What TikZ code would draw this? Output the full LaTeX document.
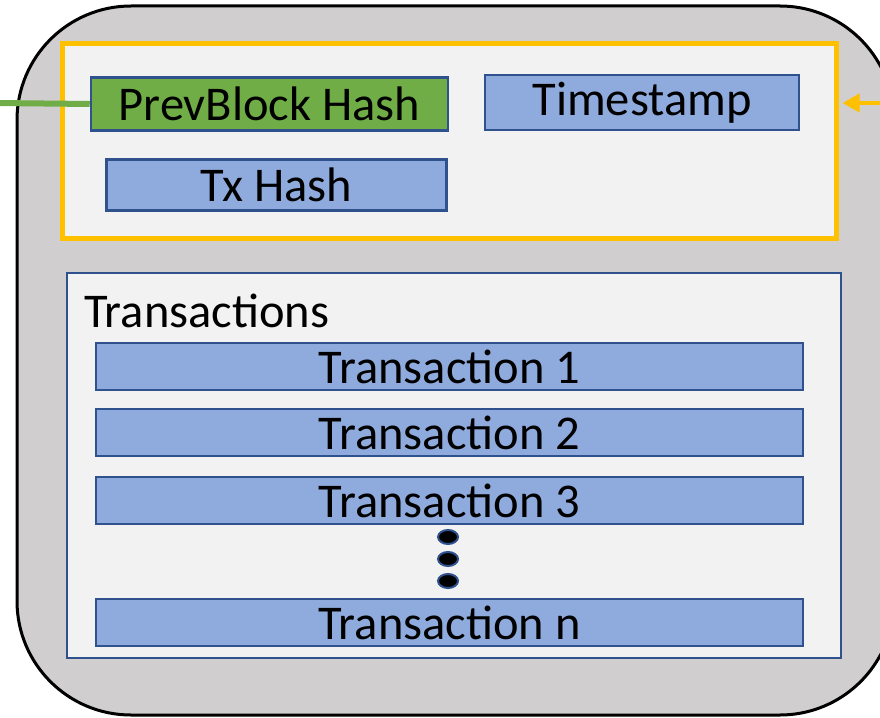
\documentclass[tikz,border=0pt]{standalone}
\usepackage{fontspec}
\setmainfont{Carlito}
\usetikzlibrary{arrows.meta,shapes.geometric}
\definecolor{blockgrey}{HTML}{D0CECE}
\definecolor{paneI}{HTML}{F2F2F2}
\definecolor{hdrorange}{HTML}{FFC000}
\definecolor{fieldblue}{HTML}{8FAADC}
\definecolor{edgeblue}{HTML}{2F528F}
\definecolor{linkgreen}{HTML}{70AD47}
\tikzset{
  lbl/.style={font=\fontsize{48.5}{54}\selectfont, text=black},
  field/.style={draw=edgeblue, line width=2.5pt, fill=fieldblue, inner sep=0pt, lbl},
  prevfield/.style={field, fill=linkgreen},
  txrow/.style={field, minimum width=707pt, minimum height=47pt},
  dot/.style={ellipse, draw=edgeblue, line width=2pt, fill=black, minimum width=20pt, minimum height=14pt, inner sep=0pt},
  blockline/.style={black, line width=3pt},
}
\begin{document}
\begin{tikzpicture}[x=1pt, y=-1pt]
\useasboundingbox (0,0) rectangle (880,717);
% block container: filled body, then its outline up to where it leaves the page
\fill[blockgrey, rounded corners=114pt] (17,6) rectangle (894,715);
\draw[blockline, rounded corners=114pt] (780,715) -- (17,715) -- (17,6) -- (780,6);
\draw[blockline] (780,6) arc[start angle=90, end angle=10, radius=114pt];
\draw[blockline] (780,715) arc[start angle=-90, end angle=-10, radius=114pt];
% header
\node[draw=hdrorange, line width=5pt, fill=paneI,
      minimum width=774pt, minimum height=195pt, inner sep=0pt] (hdr) at (449,141) {};
\node[prevfield, minimum width=357pt, minimum height=53pt] (prev) at (269.5,104) {PrevBlock Hash};
\node[field, minimum width=314pt, minimum height=55pt] (ts) at (642,102.5) {Timestamp};
\node[field, minimum width=340pt, minimum height=51pt] (txh) at (276.5,185) {Tx Hash};
% transactions
\node[draw=edgeblue, line width=2pt, fill=paneI,
      minimum width=774pt, minimum height=385pt, inner sep=0pt] (txs) at (453.5,465) {};
\node[lbl, anchor=base west, inner sep=0pt] (txlbl) at (84,327) {Transactions};
\node[txrow] (t1) at (449.5,366.5) {Transaction 1};
\node[txrow] (t2) at (449.5,432.5) {Transaction 2};
\node[txrow] (t3) at (449.5,500.5) {Transaction 3};
\node[dot] (d1) at (448,537) {};
\node[dot] (d2) at (448,559) {};
\node[dot] (d3) at (448,581) {};
\node[txrow] (tn) at (449.5,622.5) {Transaction n};
% links
\coordinate (gin) at (-2,103);
\coordinate (oin) at (884,103);
\draw[linkgreen, line width=6pt] (gin) -- (prev.west);
\draw[hdrorange, line width=4pt, -{Triangle[length=17pt,width=18pt]}, shorten >=4pt]
  (oin) -- (oin -| hdr.east);
\end{tikzpicture}
\end{document}
